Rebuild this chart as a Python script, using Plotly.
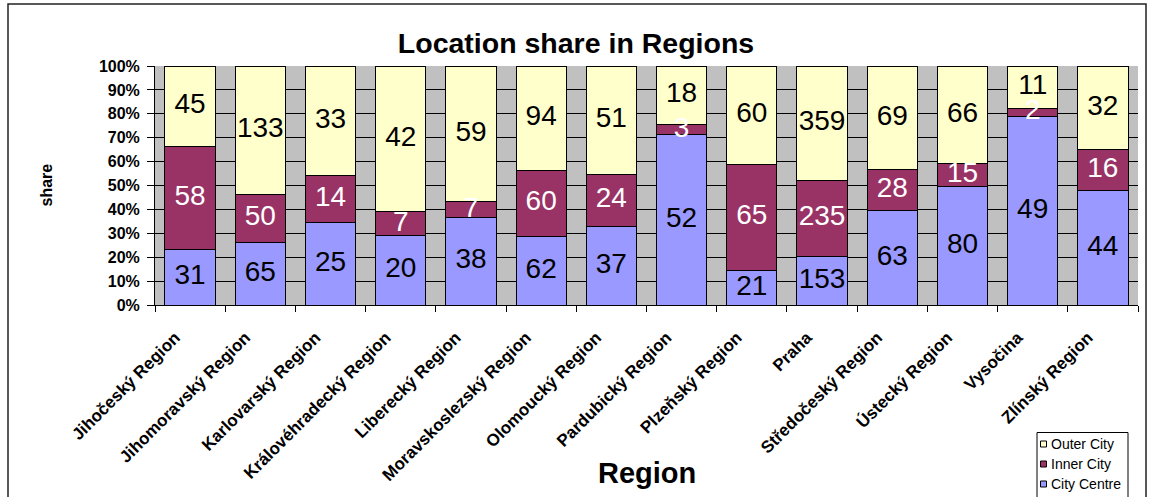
import plotly.graph_objects as go

regions = ["Jihočeský Region", "Jihomoravský Region", "Karlovarský Region",
           "Královéhradecký Region", "Liberecký Region", "Moravskoslezský Region",
           "Olomoucký Region", "Pardubický Region", "Plzeňský Region", "Praha",
           "Středočeský Region", "Ústecký Region", "Vysočina", "Zlínský Region"]
city_centre = [31, 65, 25, 20, 38, 62, 37, 52, 21, 153, 63, 80, 49, 44]
inner_city = [58, 50, 14, 7, 7, 60, 24, 3, 65, 235, 28, 15, 2, 16]
outer_city = [45, 133, 33, 42, 59, 94, 51, 18, 60, 359, 69, 66, 11, 32]

series = [("City Centre", city_centre, "#9999FF", "black"),
          ("Inner City", inner_city, "#993366", "white"),
          ("Outer City", outer_city, "#FFFFCC", "black")]

FONT = "Arial, Liberation Sans, sans-serif"
W, H = 1149, 497
L, R, T, B = 155, 11, 66, 192
PW, PH = W - L - R, H - T - B


def px_x(p):
    return (p - L) / PW


def px_y(p):
    return (H - B - p) / PH


fig = go.Figure()
for name, vals, color, tcolor in series:
    fig.add_trace(go.Bar(
        x=regions, y=vals, name=name,
        marker=dict(color=color, line=dict(color="black", width=1)),
        showlegend=False, hoverinfo="x+y+name",
    ))

# data labels, centred in each stacked (percent-normalised) segment, drawn above all bars
totals = [sum(v) for v in zip(city_centre, inner_city, outer_city)]
base = [0.0] * len(regions)
for name, vals, color, tcolor in series:
    mids = [(b + v / 2) / t * 100 for b, v, t in zip(base, vals, totals)]
    base = [b + v for b, v in zip(base, vals)]
    fig.add_trace(go.Scatter(
        x=regions, y=mids, mode="text", text=[str(v) for v in vals],
        textposition="middle center", cliponaxis=False,
        textfont=dict(family=FONT, size=28, color=tcolor),
        showlegend=False, hoverinfo="skip",
    ))

fig.update_layout(
    width=W, height=H,
    margin=dict(l=L, r=R, t=T, b=B, autoexpand=False),
    barmode="stack", barnorm="percent", bargap=0.283,
    paper_bgcolor="white", plot_bgcolor="#C0C0C0",
    font=dict(family=FONT, color="black"),
    title=dict(text="Location share in Regions", x=px_x(576), xref="paper",
               xanchor="center", y=1 - 43 / H, yref="container", yanchor="middle",
               font=dict(family=FONT, size=28.5, weight="bold", color="black")),
)
fig.update_yaxes(range=[0, 100], dtick=10, ticksuffix="%", showgrid=True,
                 gridcolor="black", gridwidth=1, showline=True, linecolor="black",
                 linewidth=1, ticks="outside", ticklen=7, tickcolor="black",
                 ticklabelstandoff=4,
                 tickfont=dict(family=FONT, size=16, weight="bold", color="black"),
                 zeroline=False, automargin=False)
fig.update_xaxes(range=[-0.5, len(regions) - 0.5], autorange=False,
                 tickson="boundaries", ticks="outside", ticklen=6, tickcolor="black",
                 showline=True, linecolor="black", linewidth=1, tickangle=-45,
                 ticklabelshift=-15, ticklabelstandoff=15, automargin=False,
                 tickfont=dict(family=FONT, size=17, weight="bold", color="black"),
                 showgrid=False)

# axis titles
fig.add_annotation(text="share", x=px_x(46), y=0.5, xref="paper", yref="paper",
                   textangle=-90, showarrow=False, xanchor="center", yanchor="middle",
                   font=dict(family=FONT, size=16, weight="bold", color="black"))
fig.add_annotation(text="Region", x=0.5, y=px_y(473), xref="paper", yref="paper",
                   showarrow=False, xanchor="center", yanchor="middle",
                   font=dict(family=FONT, size=29, weight="bold", color="black"))

# chart border
fig.add_shape(type="rect", xref="paper", yref="paper",
              x0=px_x(8), x1=px_x(1146), y0=px_y(503), y1=px_y(4),
              line=dict(color="#222222", width=1.5), fillcolor="rgba(0,0,0,0)")

# legend (Excel-style)
fig.add_shape(type="rect", xref="paper", yref="paper",
              x0=px_x(1037), x1=px_x(1128), y0=px_y(503), y1=px_y(432.5),
              line=dict(color="black", width=1), fillcolor="white")
leg_y = [484, 464, 444]
for (name, vals, color, tcolor), yc in zip(series, leg_y):
    fig.add_shape(type="rect", xref="paper", yref="paper",
                  x0=px_x(1040.5), x1=px_x(1046.5), y0=px_y(yc + 3), y1=px_y(yc - 3),
                  line=dict(color="black", width=1), fillcolor=color)
    fig.add_annotation(text=name, x=px_x(1048.5), y=px_y(yc), xref="paper", yref="paper",
                       showarrow=False, xanchor="left", yanchor="middle",
                       font=dict(family=FONT, size=14, color="black"))

fig.write_html("out.html", config={"displayModeBar": False},
               post_script="document.body.style.margin='0';document.body.style.overflow='hidden';")
